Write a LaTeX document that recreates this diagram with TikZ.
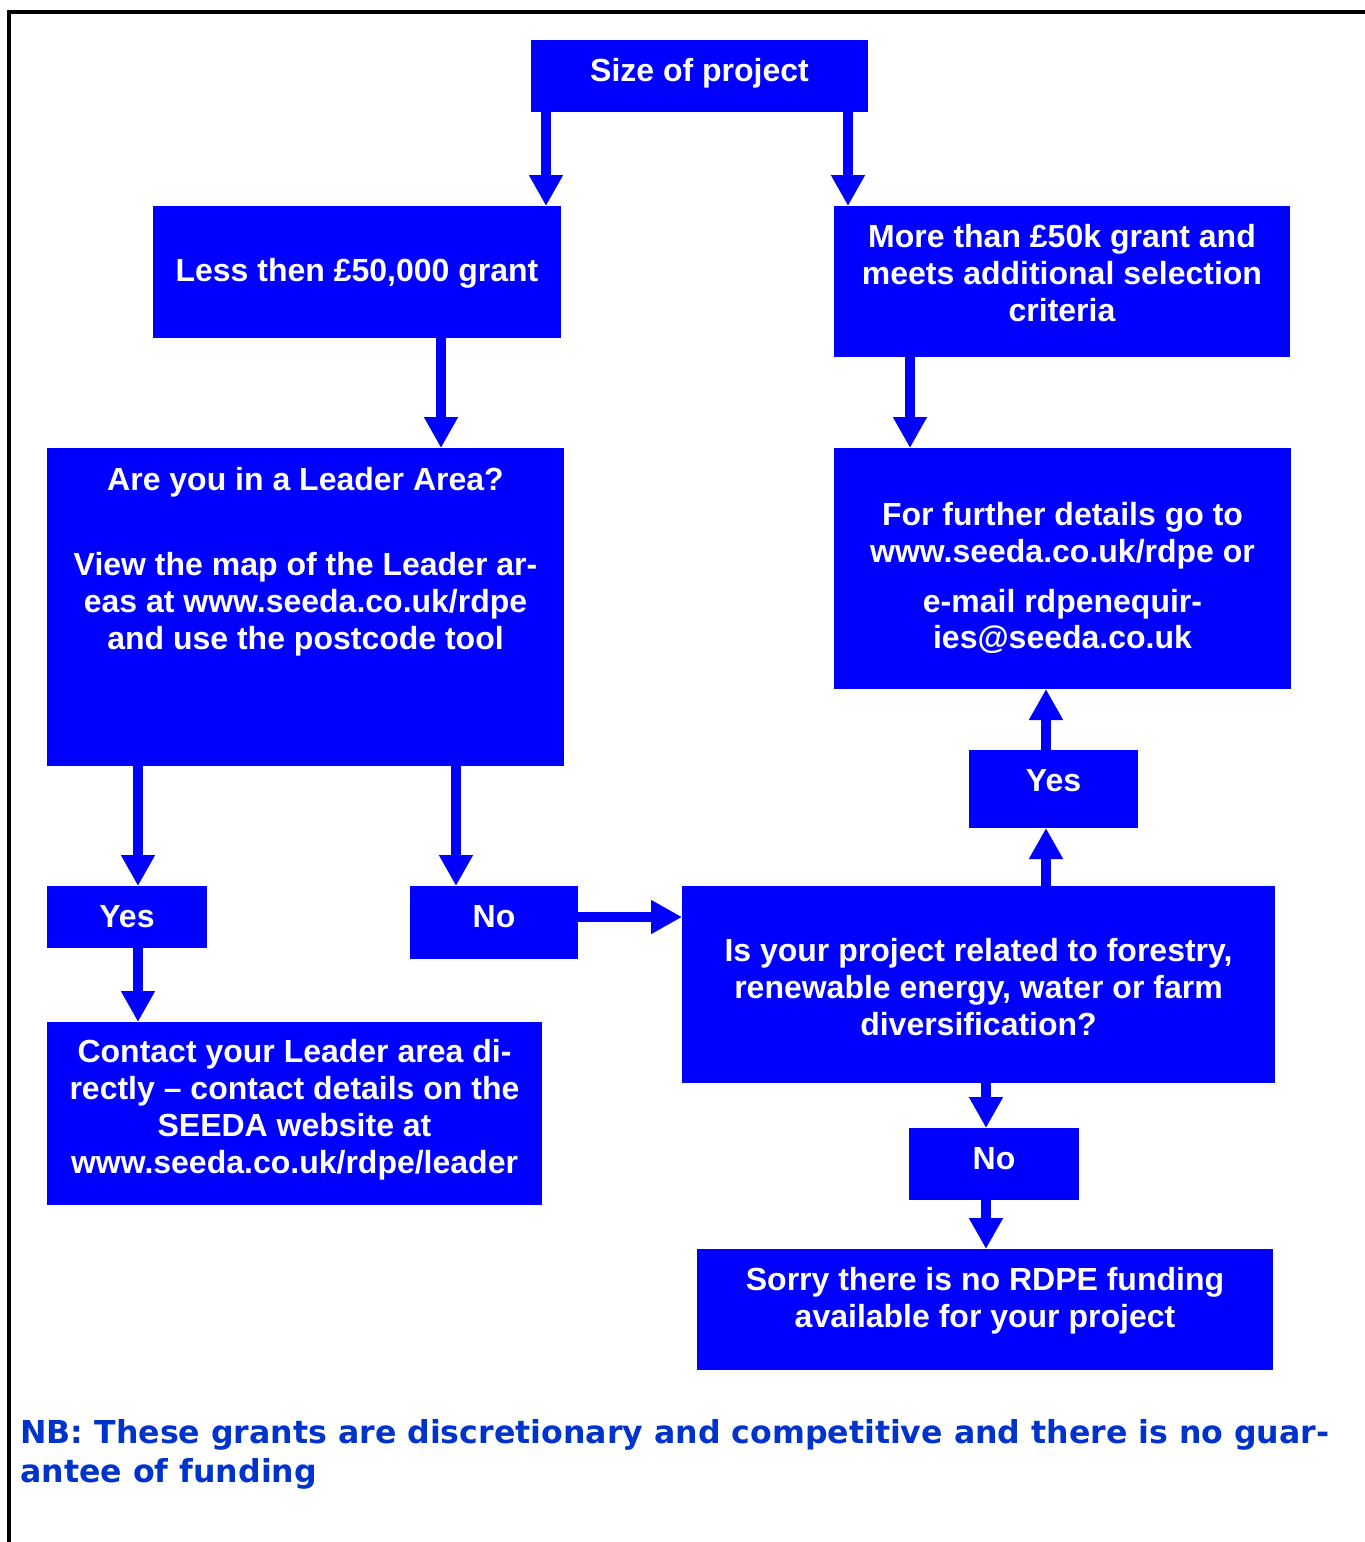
\documentclass[tikz,border=0pt]{standalone}
\usepackage{fontspec}
\setmainfont{Liberation Sans}
\newfontfamily\nbfont{DejaVu Sans}
\usetikzlibrary{arrows.meta,calc,fit}
\definecolor{boxblue}{HTML}{0000FF}
\definecolor{nbblue}{HTML}{0033CC}
\begin{document}
\begin{tikzpicture}[x=0.5pt,y=-0.5pt,
  box/.style={fill=boxblue,draw=none,inner sep=0pt,outer sep=0pt},
  txt/.style={text=white,font=\bfseries\fontsize{16}{18.5}\selectfont,anchor=base,inner sep=0pt},
  arr/.style={draw=boxblue,line width=5pt,-{Triangle[width=16pt,length=15.5pt]}},
  nb/.style={text=nbblue,font=\nbfont\bfseries\fontsize{15.8}{19.5}\selectfont,anchor=base west,inner sep=0pt},
  frame/.style={draw=black,line width=1.75pt}]
\useasboundingbox (0,0) rectangle (1365,1542);
\draw[frame] (9,1542) -- (9,11.75) -- (1365,11.75);

% boxes
\node[box,fit={(531,40) (868,112)}] (size) {};
\node[box,fit={(153,206) (561,338)}] (less) {};
\node[box,fit={(834,206) (1290,357)}] (more) {};
\node[box,fit={(47,448) (564,766)}] (leader) {};
\node[box,fit={(834,448) (1291,689)}] (further) {};
\node[box,fit={(47,886) (207,948)}] (yesl) {};
\node[box,fit={(410,886) (578,959)}] (nol) {};
\node[box,fit={(969,750) (1138,828)}] (yesr) {};
\node[box,fit={(682,886) (1275,1083)}] (isproj) {};
\node[box,fit={(909,1128) (1079,1200)}] (nor) {};
\node[box,fit={(47,1022) (542,1205)}] (contact) {};
\node[box,fit={(697,1249) (1273,1370)}] (sorry) {};

% texts
\node[txt] (t-size) at (699.5,81) {Size of project};
\node[txt] (t-less) at (357,281) {Less then £50,000 grant};
\node[txt] (t-more1) at (1062,247) {More than £50k grant and};
\node[txt] (t-more2) at (1062,284) {meets additional selection};
\node[txt] (t-more3) at (1062,321) {criteria};
\node[txt] (t-lead1) at (305.5,490) {Are you in a Leader Area?};
\node[txt] (t-lead2) at (305.5,575) {View the map of the Leader ar-};
\node[txt] (t-lead3) at (305.5,612) {eas at www.seeda.co.uk/rdpe};
\node[txt] (t-lead4) at (305.5,649) {and use the postcode tool};
\node[txt] (t-fur1) at (1062.5,525) {For further details go to};
\node[txt] (t-fur2) at (1062.5,562) {www.seeda.co.uk/rdpe or};
\node[txt] (t-fur3) at (1062.5,612) {e-mail rdpenequir-};
\node[txt] (t-fur4) at (1062.5,648) {ies@seeda.co.uk};
\node[txt] (t-yesl) at (127,927) {Yes};
\node[txt] (t-nol) at (494,927) {No};
\node[txt] (t-yesr) at (1053.5,791) {Yes};
\node[txt] (t-is1) at (978.5,961) {Is your project related to forestry,};
\node[txt] (t-is2) at (978.5,998) {renewable energy, water or farm};
\node[txt] (t-is3) at (978.5,1035) {diversification?};
\node[txt] (t-nor) at (994,1169) {No};
\node[txt] (t-con1) at (294.5,1062) {Contact your Leader area di-};
\node[txt] (t-con2) at (294.5,1099) {rectly – contact details on the};
\node[txt] (t-con3) at (294.5,1136) {SEEDA website at};
\node[txt] (t-con4) at (294.5,1173) {www.seeda.co.uk/rdpe/leader};
\node[txt] (t-sor1) at (985,1290) {Sorry there is no RDPE funding};
\node[txt] (t-sor2) at (985,1327) {available for your project};

\node[nb] (nb1) at (20,1443) {NB: These grants are discretionary and competitive and there is no guar-};
\node[nb] (nb2) at (20,1482) {antee of funding};

% connectors
\draw[arr] ($(size.south west)+(15,0)$) coordinate (c1) -- (c1 |- less.north);
\draw[arr] ($(size.south east)+(-20,0)$) coordinate (c2) -- (c2 |- more.north);
\draw[arr] ($(less.south west)+(288,0)$) coordinate (c3) -- (c3 |- leader.north);
\draw[arr] ($(more.south west)+(76,0)$) coordinate (c4) -- (c4 |- further.north);
\draw[arr] ($(leader.south west)+(91,0)$) coordinate (c5) -- (c5 |- yesl.north);
\draw[arr] ($(leader.south west)+(409,0)$) coordinate (c6) -- (c6 |- nol.north);
\draw[arr] ($(yesl.south west)+(91,0)$) coordinate (c7) -- (c7 |- contact.north);
\draw[arr] ($(nol.north east)+(0,31)$) coordinate (c8) -- (c8 -| isproj.west);
\draw[arr] ($(isproj.north west)+(364,0)$) coordinate (c9) -- (c9 |- yesr.south);
\draw[arr] ($(yesr.north west)+(77,0)$) coordinate (c10) -- (c10 |- further.south);
\draw[arr] ($(isproj.south west)+(304,0)$) coordinate (c11) -- (c11 |- nor.north);
\draw[arr] ($(nor.south west)+(77,0)$) coordinate (c12) -- (c12 |- sorry.north);
\end{tikzpicture}
\end{document}
